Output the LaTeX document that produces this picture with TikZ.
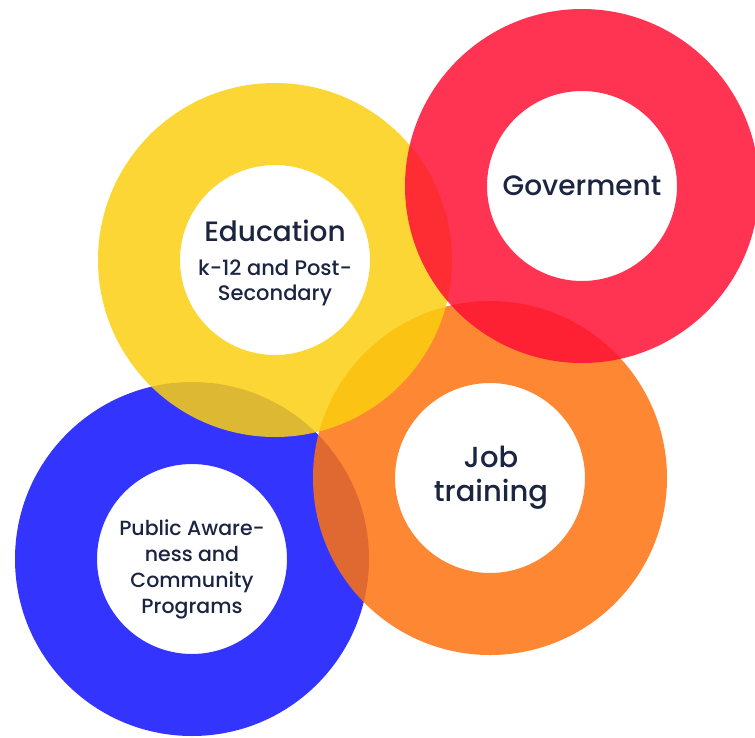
\documentclass[tikz,border=0pt]{standalone}
\usepackage{fontspec}
\setmainfont{Poppins}
\newfontfamily\popmed{Poppins Medium}
\definecolor{ringgelb}{RGB}{251,207,16}
\definecolor{ringrot}{RGB}{255,16,52}
\definecolor{ringorange}{RGB}{253,114,14}
\definecolor{ringblau}{RGB}{16,16,255}
\definecolor{textblau}{RGB}{27,36,64}

\begin{document}
\begin{tikzpicture}[x=1pt, y=-1pt, % Koordinaten in Pixeln, y nach unten
    ringtext/.style={text=textblau, align=center, font=\popmed\fontsize{20.5}{26}\selectfont}]

    % Bildrahmen
    \useasboundingbox (0,0) rectangle (755,737);
    \clip (0,0) rectangle (755,737);

    % Ringe zeichnen: blau ganz unten, rot ganz oben, leicht durchsichtig
    \foreach \x/\y/\farbe in {192/559/ringblau, 490/478/ringorange, 275/260/ringgelb, 582/186/ringrot} {
        \fill[\farbe, fill opacity=0.85, even odd rule] (\x,\y) circle (177) (\x,\y) circle (95); % Ring mit Loch
    }

    % Beschriftungen in den Löchern
    \node[ringtext, font=\popmed\fontsize{21}{25}\selectfont] (bildung) at (275,263)
        {{\fontsize{28}{28}\selectfont Education}\\[9pt]k-12 and Post-\\Secondary};
    \node[ringtext, font=\popmed\fontsize{28}{30}\selectfont] (regierung) at (582,186) {Goverment};
    \node[ringtext, font=\popmed\fontsize{29}{34}\selectfont] (ausbildung) at (491,478) {Job\\training};
    \node[ringtext] (oeffentlichkeit) at (192,569) {Public Aware-\\ness and\\Community\\Programs};
\end{tikzpicture}
\end{document}
